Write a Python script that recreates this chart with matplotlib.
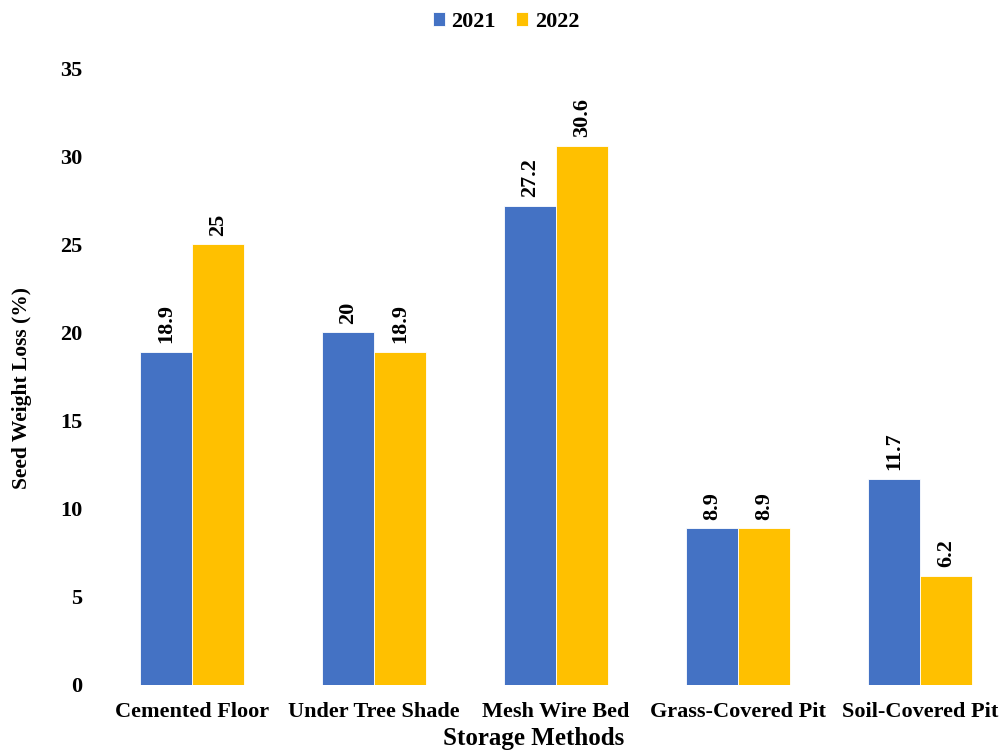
import matplotlib
matplotlib.use("Agg")
import matplotlib.pyplot as plt
import numpy as np

categories = ["Cemented Floor", "Under Tree Shade", "Mesh Wire Bed", "Grass-Covered Pit", "Soil-Covered Pit"]
series_names = ["2021", "2022"]
values_2021 = [18.9, 20, 27.2, 8.9, 11.7]
values_2022 = [25, 18.9, 30.6, 8.9, 6.2]
yticks = [0, 5, 10, 15, 20, 25, 30, 35]
colors = ["#4472C4", "#FFC000"]

plt.rcParams['font.family'] = ['Liberation Serif', 'DejaVu Serif']
plt.rcParams['font.weight'] = 'bold'

W, H = 1003, 753
fig = plt.figure(figsize=(W / 100, H / 100), dpi=100)
left_px, right_px = 110, 1003
bot_px, top_px = 685, 68
ax = fig.add_axes([left_px / W, (H - bot_px) / H, (right_px - left_px) / W, (bot_px - top_px) / H])

x = np.arange(len(categories))
bw = 0.285
b1 = ax.bar(x - bw / 2, values_2021, bw, color=colors[0], edgecolor='white', linewidth=0.6, label=series_names[0])
b2 = ax.bar(x + bw / 2, values_2022, bw, color=colors[1], edgecolor='white', linewidth=0.6, label=series_names[1])

for bars, vals in ((b1, values_2021), (b2, values_2022)):
    for rect, v in zip(bars, vals):
        ax.annotate(f"{v:g}", (rect.get_x() + rect.get_width() / 2, v), xytext=(0, 6),
                    textcoords='offset points', rotation=90, ha='center', va='bottom',
                    fontsize=16, fontweight='bold')

c0, sp = 192, 182
ax.set_xlim((left_px - c0) / sp, (right_px - c0) / sp)
ax.set_ylim(0, 35)
ax.set_yticks(yticks)
ax.set_xticks(x)
ax.set_xticklabels(categories, fontsize=16, fontweight='bold')
ax.tick_params(axis='y', labelsize=16, length=0, pad=20)
ax.tick_params(axis='x', length=0, pad=12)
for s in ax.spines.values():
    s.set_visible(False)

fig.text(22 / W, 1 - 388 / H, "Seed Weight Loss (%)", rotation=90, ha='center', va='center',
         fontsize=15.5, fontweight='bold')
fig.text(534 / W, 1 - 745 / H, "Storage Methods", ha='center', va='baseline',
         fontsize=18, fontweight='bold')

fig.legend(loc='center', bbox_to_anchor=(506 / W, 1 - 22 / H), ncol=2, frameon=False,
           handlelength=0.55, handleheight=0.55, handletextpad=0.3, columnspacing=0.9,
           prop={'weight': 'bold', 'size': 16})

fig.savefig("out.png", dpi=100)
